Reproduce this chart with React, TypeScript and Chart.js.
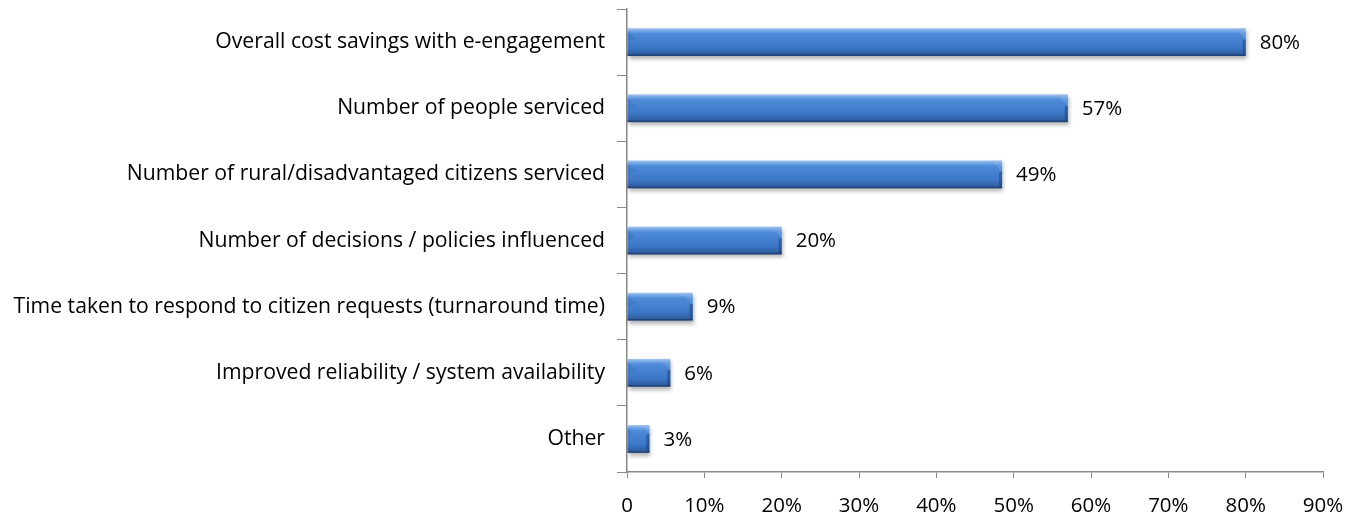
import React, { useEffect, useRef } from "react";
import { Chart, registerables } from "chart.js";

Chart.register(...registerables);

const categories = [
  "Overall cost savings with e-engagement",
  "Number of people serviced",
  "Number of rural/disadvantaged citizens serviced",
  "Number of decisions / policies influenced",
  "Time taken to respond to citizen requests (turnaround time)",
  "Improved reliability / system availability",
  "Other",
];
const values = [80, 57, 48.5, 20, 8.5, 5.6, 2.9];
const valueLabels = ["80%", "57%", "49%", "20%", "9%", "6%", "3%"];
const xTickLabels = ["0", "10%", "20%", "30%", "40%", "50%", "60%", "70%", "80%", "90%"];

const FONT = "'Open Sans', 'Noto Sans', sans-serif";

const bevelPlugin = {
  id: "bevel3d",
  afterDatasetsDraw(chart: any) {
    const ctx = chart.ctx;
    const meta = chart.getDatasetMeta(0);
    meta.data.forEach((bar: any, i: number) => {
      const { x, y, base, height } = bar.getProps(["x", "y", "base", "height"], true);
      const left = Math.min(base, x);
      const right = Math.max(base, x);
      const top = y - height / 2;
      const bottom = y + height / 2;
      const w = right - left;
      const h = bottom - top;
      ctx.save();
      ctx.shadowColor = "rgba(0,0,0,0.3)";
      ctx.shadowBlur = 4;
      ctx.shadowOffsetX = 1;
      ctx.shadowOffsetY = 3;
      const g = ctx.createLinearGradient(0, top, 0, bottom);
      g.addColorStop(0, "#a9c9f0");
      g.addColorStop(0.07, "#7eaee8");
      g.addColorStop(0.2, "#4d8ad8");
      g.addColorStop(0.7, "#3c77c6");
      g.addColorStop(0.92, "#305fa3");
      g.addColorStop(1, "#284f88");
      ctx.fillStyle = g;
      ctx.fillRect(left, top, w, h);
      ctx.restore();
      ctx.save();
      const bv = Math.min(h * 0.4, w * 0.4);
      // right end bevel
      ctx.beginPath();
      ctx.moveTo(right - bv, top);
      ctx.lineTo(right, top);
      ctx.lineTo(right, top + bv);
      ctx.closePath();
      ctx.fillStyle = "rgba(150,185,230,0.3)";
      ctx.fill();
      ctx.beginPath();
      ctx.moveTo(right, top + bv);
      ctx.lineTo(right, bottom);
      ctx.lineTo(right - 3, bottom - 2);
      ctx.lineTo(right - 3, top + bv + 1);
      ctx.closePath();
      ctx.fillStyle = "rgba(25,60,115,0.5)";
      ctx.fill();
      // left end bevel (subtle)
      ctx.beginPath();
      ctx.moveTo(left, top + 3);
      ctx.lineTo(left + bv * 0.7, top + bv);
      ctx.lineTo(left, top + bv * 1.2);
      ctx.closePath();
      ctx.fillStyle = "rgba(40,90,160,0.2)";
      ctx.fill();
      ctx.fillStyle = "rgba(20,50,100,0.5)";
      ctx.fillRect(left, bottom - 1.5, w, 1.5);
      // value label
      ctx.fillStyle = "#000";
      ctx.font = "20.5px " + FONT;
      ctx.textAlign = "left";
      ctx.textBaseline = "middle";
      ctx.fillText(valueLabels[i], right + 14, y + 1);
      ctx.restore();
    });
  },
};

export default function App() {
  const ref = useRef<HTMLCanvasElement | null>(null);
  useEffect(() => {
    if (!ref.current) return;
    const chart = new Chart(ref.current, {
      type: "bar",
      data: {
        labels: categories,
        datasets: [
          {
            data: values,
            backgroundColor: "rgba(0,0,0,0)",
            borderWidth: 0,
            barPercentage: 0.42,
            categoryPercentage: 1,
          },
        ],
      },
      options: {
        indexAxis: "y",
        animation: false,
        responsive: true,
        maintainAspectRatio: false,
        layout: { padding: { top: 1, right: 31, left: 0, bottom: 0 } },
        plugins: { legend: { display: false }, tooltip: { enabled: false } },
        scales: {
          x: {
            min: 0,
            max: 90,
            afterBuildTicks(scale: any) {
              scale.ticks = xTickLabels.map((_, i) => ({ value: i * 10 }));
            },
            afterFit(scale: any) {
              scale.height = 46;
              scale.paddingLeft = 0;
              scale.paddingRight = 0;
            },
            ticks: {
              color: "#000",
              font: { family: FONT, size: 20.5 },
              padding: 16,
              maxRotation: 0,
              autoSkip: false,
              callback: (_v: any, i: number) => xTickLabels[i],
            },
            grid: { drawOnChartArea: false, tickLength: 6, color: "#888", tickColor: "#888" },
            border: { color: "#888", width: 1.5 },
          },
          y: {
            afterFit(scale: any) {
              scale.width = 619;
              scale.paddingTop = 0;
              scale.paddingBottom = 0;
            },
            ticks: {
              color: "#000",
              font: { family: FONT, size: 21.2 },
              padding: 12,
              autoSkip: false,
            },
            grid: { drawOnChartArea: false, tickLength: 10, color: "#888", tickColor: "#888", offset: true },
            border: { color: "#888", width: 1.5 },
          },
        },
      },
      plugins: [bevelPlugin],
    });
    return () => chart.destroy();
  }, []);
  return (
    <div style={{ width: 1346, height: 510, position: "relative" }}>
      <canvas ref={ref} />
    </div>
  );
}
